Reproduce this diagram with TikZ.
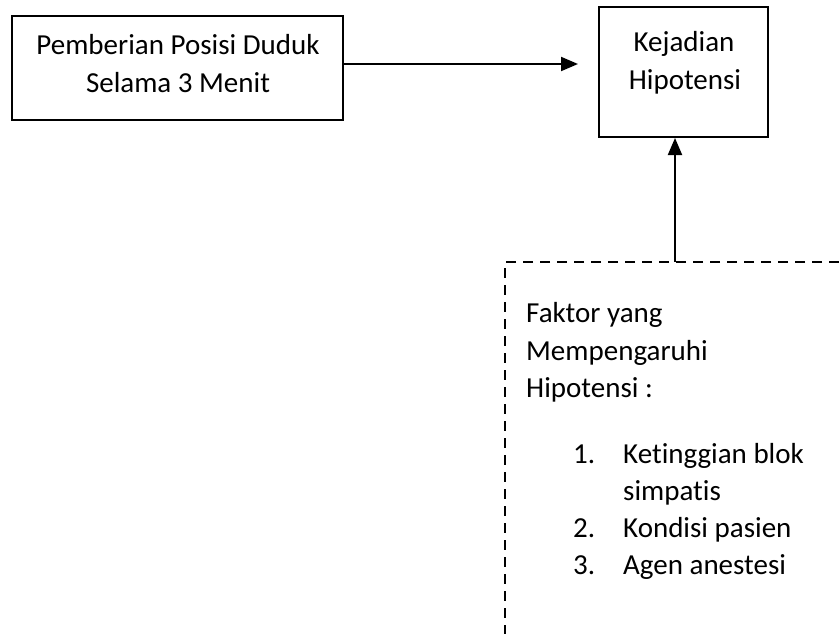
\documentclass[tikz,border=0pt]{standalone}
\usepackage{fontspec}
\setmainfont{Carlito}[Ligatures={NoCommon}]
\usetikzlibrary{arrows.meta}
\begin{document}
\begin{tikzpicture}[x=1pt,y=-1pt,
  box/.style={draw=black,line width=2pt,inner sep=0pt},
  txt/.style={font=\fontsize{29}{37.5}\selectfont,inner sep=0pt,anchor=base},
  ltxt/.style={txt,anchor=base west},
  arr/.style={line width=2pt,-{Triangle[length=17pt,width=14pt]}},
  dashline/.style={line width=2pt,dash pattern=on 10pt off 7pt}]
\useasboundingbox (0,0) rectangle (839,634);
% boxes
\node[box,minimum width=331pt,minimum height=104pt] (p) at (177.5,68) {};
\node[box,minimum width=169pt,minimum height=130pt] (k) at (683.5,72) {};
% texts in boxes
\node[txt] (p1) at (178,55) {Pemberian Posisi Duduk};
\node[txt] (p2) at (178,93) {Selama 3 Menit};
\node[txt] (k1) at (684,52) {Kejadian};
\node[txt] (k2) at (685,90) {Hipotensi};
% horizontal arrow
\coordinate (htip) at (578,64);
\draw[arr] (p.east |- htip) -- (htip);
% dashed box (top and left sides)
\coordinate (dtr) at (839,262);
\coordinate (dtl) at (505,262);
\coordinate (dbl) at (505,634);
\draw[dashline] (dtr) -- (dtl) -- (dbl);
% vertical arrow
\coordinate (vbase) at (675,262);
\draw[arr] (vbase) -- (vbase |- k.south);
% dashed box texts
\node[ltxt] (f1) at (526,322) {Faktor yang};
\node[ltxt] (f2) at (526,360) {Mempengaruhi};
\node[ltxt] (f3) at (526,397) {Hipotensi :};
\node[ltxt] (n1) at (573,463) {1.};
\node[ltxt] (i1) at (623,463) {Ketinggian blok};
\node[ltxt] (i1b) at (623,500) {simpatis};
\node[ltxt] (n2) at (573,537) {2.};
\node[ltxt] (i2) at (623,537) {Kondisi pasien};
\node[ltxt] (n3) at (573,574) {3.};
\node[ltxt] (i3) at (623,574) {Agen anestesi};
\end{tikzpicture}
\end{document}
